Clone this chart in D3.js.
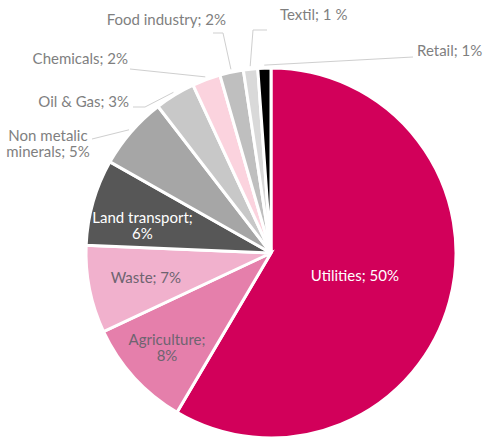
<!DOCTYPE html>
<html>
<head>
<meta charset="utf-8">
<script src="https://cdn.jsdelivr.net/npm/d3@7"></script>
<style>
  html, body { margin: 0; padding: 0; background: #fff; }
  svg { display: block; }
  text { font-family: Lato, "Open Sans", sans-serif; }
</style>
</head>
<body>
<svg id="chart" width="488" height="439"></svg>
<script>
// ---- data ----
const categories = ["Utilities", "Agriculture", "Waste", "Land transport", "Non metalic minerals",
                    "Oil & Gas", "Chemicals", "Food industry", "Textil", "Retail"];
const values = [49.7, 8.1, 6.5, 6.4, 5.4, 3.0, 2.1, 1.75, 1.06, 0.97];
const valueLabels = ["50%", "8%", "7%", "6%", "5%", "3%", "2%", "2%", "1 %", "1%"];
const colors = ["#d2005a", "#e57fab", "#f1b1cd", "#575757", "#a6a6a6",
                "#c8c8c8", "#fbd3de", "#bfbfbf", "#d9d9d9", "#000000"];

// ---- layout ----
const W = 488, H = 439;
const cx = 271, cy = 253, R = 185;
const FS = 15;
const svg = d3.select("#chart");
const g = svg.append("g").attr("transform", `translate(${cx},${cy})`);

const pie = d3.pie().sort(null).value(d => d)(values);
const arc = d3.arc().innerRadius(0).outerRadius(R);

g.selectAll("path.slice")
  .data(pie)
  .join("path")
  .attr("class", "slice")
  .attr("d", arc)
  .attr("fill", (d, i) => colors[i])
  .attr("stroke", "#fff")
  .attr("stroke-width", 3)
  .attr("stroke-linejoin", "miter");

const polar = (a, r) => [r * Math.sin(a), -r * Math.cos(a)];
const at = (d, f) => d.startAngle + f * (d.endAngle - d.startAngle);

// inside labels: slice index, radius factor, angular fraction, text colour, lines
const inside = [
  {i: 0, rf: 0.47, af: 0.5, color: "#ffffff", lines: [categories[0] + "; " + valueLabels[0]]},
  {i: 1, rf: 0.76, af: 0.5, color: "#6e6470", lines: [categories[1] + ";", valueLabels[1]]},
  {i: 2, rf: 0.69, af: 0.5, color: "#6e6470", lines: [categories[2] + "; " + valueLabels[2]]},
  {i: 3, rf: 0.71, af: 0.35, color: "#ffffff", lines: [categories[3] + ";", valueLabels[3]]}
];
const lh = 16.5;
inside.forEach(o => {
  const [x, y] = polar(at(pie[o.i], o.af), R * o.rf);
  const t = g.append("text")
    .attr("text-anchor", "middle")
    .attr("font-size", FS)
    .attr("fill", o.color);
  const n = o.lines.length;
  o.lines.forEach((s, k) => {
    t.append("tspan")
      .attr("x", x)
      .attr("y", y + (k - (n - 1) / 2) * lh)
      .attr("dy", "0.35em")
      .text(s);
  });
});

// outside labels with leader lines (label box placement relative to chart)
const outside = [
  {i: 4, lines: ["Non metalic", "minerals; " + valueLabels[4]], anchor: "middle", tx: 48, ty: 143.5, pts: [[92, 139]]},
  {i: 5, lines: [categories[5] + "; " + valueLabels[5]], anchor: "end", tx: 129, ty: 102, pts: [[145, 107], [133, 107]]},
  {i: 6, lines: [categories[6] + "; " + valueLabels[6]], anchor: "end", tx: 128, ty: 59, pts: [[130, 69]]},
  {i: 7, lines: [categories[7] + "; " + valueLabels[7]], anchor: "end", tx: 226, ty: 20, pts: [[223, 33], [213, 33]]},
  {i: 8, lines: [categories[8] + "; " + valueLabels[8]], anchor: "start", tx: 280, ty: 15, pts: [[253, 30], [267, 30]]},
  {i: 9, lines: [categories[9] + "; " + valueLabels[9]], anchor: "start", tx: 417, ty: 51, pts: [[413, 57]]}
];
const line = d3.line();
outside.forEach(o => {
  const [sx, sy] = polar(at(pie[o.i], 0.5), R + 3);
  const pts = [[sx + cx, sy + cy], ...o.pts];
  svg.append("path")
    .attr("d", line(pts))
    .attr("fill", "none")
    .attr("stroke", "#cfcfcf")
    .attr("stroke-width", 1);
  const t = svg.append("text")
    .attr("text-anchor", o.anchor)
    .attr("font-size", FS)
    .attr("fill", "#7f7f7f");
  const n = o.lines.length;
  o.lines.forEach((s, k) => {
    t.append("tspan")
      .attr("x", o.tx)
      .attr("y", o.ty + (k - (n - 1) / 2) * lh)
      .attr("dy", "0.35em")
      .text(s);
  });
});
</script>
</body>
</html>
